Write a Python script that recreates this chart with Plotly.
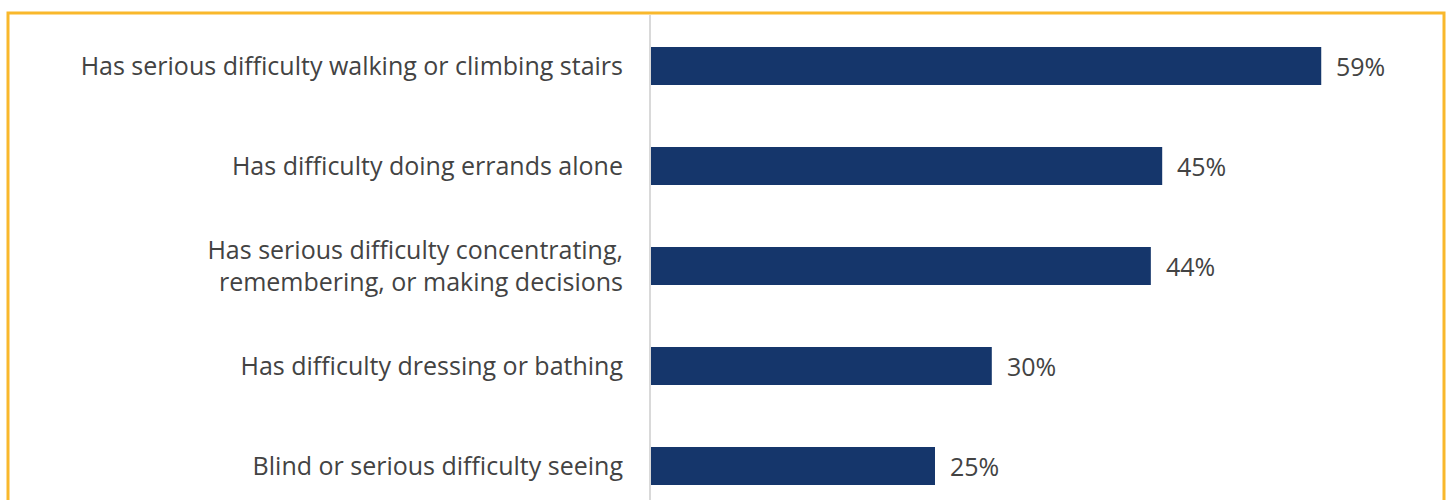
import plotly.graph_objects as go

categories = [
    "Has serious difficulty walking or climbing stairs",
    "Has difficulty doing errands alone",
    "Has serious difficulty concentrating,<br>remembering, or making decisions",
    "Has difficulty dressing or bathing",
    "Blind or serious difficulty seeing",
]
values = [59, 45, 44, 30, 25]
value_labels = [f"{v}%" for v in values]

BAR_COLOR = "#15366B"
TEXT_COLOR = "#434343"
BORDER_COLOR = "#F9B82B"
FONT = "Open Sans"

W, H = 1448, 500
L, R, T, B = 651, 8, 15, 0
plot_w = W - L - R
plot_h = H - T - B

fig = go.Figure()
fig.add_trace(go.Bar(
    x=values,
    y=categories,
    orientation="h",
    marker=dict(color=BAR_COLOR, line=dict(width=0)),
    hoverinfo="skip",
))

# value labels just past the end of each bar
for cat, v, lab in zip(categories, values, value_labels):
    fig.add_annotation(
        x=v, y=cat, text=lab, showarrow=False,
        xanchor="left", yanchor="middle", xshift=13,
        font=dict(family=FONT, size=25, color=TEXT_COLOR),
    )

# gold frame around the panel
fig.add_shape(
    type="rect", xref="paper", yref="paper",
    x0=(8 - L) / plot_w, x1=(1444 - L) / plot_w,
    y0=-0.2, y1=1 + (T - 13) / plot_h,
    line=dict(color=BORDER_COLOR, width=3), layer="above",
)

fig.update_layout(
    width=W, height=H,
    margin=dict(l=L, r=R, t=T, b=B, pad=0),
    paper_bgcolor="white", plot_bgcolor="white",
    showlegend=False,
    bargap=0.62,
    font=dict(family=FONT, color=TEXT_COLOR),
)
fig.update_xaxes(
    range=[0, plot_w / 11.36],
    visible=False, fixedrange=True,
)
fig.update_yaxes(
    categoryorder="array", categoryarray=categories,
    range=[(H - 66) / 100, -(66 - T) / 100],
    showline=True, linecolor="#D9D9D9", linewidth=2,
    showgrid=False, zeroline=False, ticks="",
    ticklabelstandoff=21,
    tickfont=dict(family=FONT, size=25, color=TEXT_COLOR),
    fixedrange=True,
)

fig.write_html("out.html")
